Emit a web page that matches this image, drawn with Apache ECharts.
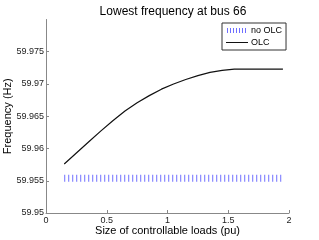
<!DOCTYPE html>
<html>
<head>
<meta charset="utf-8">
<script src="https://cdn.jsdelivr.net/npm/echarts@6/dist/echarts.min.js"></script>
<style>html,body{margin:0;padding:0;background:#fff}#c{width:319px;height:240px}</style>
</head>
<body>
<div id="c"></div>
<script>
var xs = [0.15,0.25,0.35,0.45,0.55,0.65,0.75,0.85,0.95,1.05,1.15,1.25,1.35,1.45,1.55,1.65,1.75,1.85,1.95];
var olc = [59.9576,59.9593,59.9610,59.9627,59.9643,59.9658,59.9671,59.9682,59.9692,59.9700,59.9707,59.9713,59.9718,59.9721,59.9723,59.9723,59.9723,59.9723,59.9723];
var noOlc = [59.9554,59.9554,59.9554,59.9554,59.9554,59.9554,59.9554,59.9554,59.9554,59.9554,59.9554,59.9554,59.9554,59.9554,59.9554,59.9554,59.9554,59.9554,59.9554];
var yTicks = [59.95,59.955,59.96,59.965,59.97,59.975,59.98];
var FONT = 'Liberation Sans';
function pairs(a,b){return a.map(function(v,i){return [v,b[i]];});}
var corners = 'M0 0h0.01v0.01h-0.01Z M21.99 7.99h0.01v0.01h-0.01Z ';
var barsIcon = 'path://' + corners + [1,4,7,10,13,16,19].map(function(x){return 'M'+x+' 1.5h1v5h-1Z';}).join(' ');
var lineIcon = 'path://' + corners + 'M0 3.5h22v1.1h-22Z';
var chart = echarts.init(document.getElementById('c'), null, {renderer:'canvas'});
chart.setOption({
  animation:false,
  textStyle:{fontFamily:FONT},
  title:{text:'Lowest frequency at bus 66', left:168, top:1, textAlign:'center',
    textStyle:{fontFamily:FONT,fontSize:12,fontWeight:'normal',color:'#000'}},
  grid:{left:46,right:30,top:19.5,bottom:27,containLabel:false,outerBoundsMode:'none'},
  legend:{orient:'vertical', left:222, top:23, backgroundColor:'#fff', borderColor:'#333', borderWidth:1,
    padding:[3,4,3,4], itemGap:3, itemWidth:22, itemHeight:8,
    textStyle:{fontFamily:FONT,fontSize:9,color:'#000',padding:[0,0,0,-2]},
    data:[{name:'no OLC', icon:barsIcon},{name:'OLC', icon:lineIcon}]},
  xAxis:{type:'value', min:0, max:2, interval:0.5, nameMoveOverlap:false,
    axisLine:{lineStyle:{color:'#888'}}, axisTick:{inside:true,length:3,lineStyle:{color:'#888'}},
    splitLine:{show:false},
    axisLabel:{fontFamily:FONT,fontSize:9,color:'#222',margin:3},
    name:'Size of controllable loads (pu)', nameLocation:'middle', nameGap:12,
    nameTextStyle:{fontFamily:FONT,fontSize:11,color:'#000'}},
  yAxis:{type:'value', min:yTicks[0], max:yTicks[yTicks.length-1], interval:0.005, nameMoveOverlap:false,
    axisLine:{lineStyle:{color:'#888'}}, axisTick:{inside:true,length:3,lineStyle:{color:'#888'}},
    splitLine:{show:false},
    axisLabel:{fontFamily:FONT,fontSize:9,color:'#222',margin:2,showMaxLabel:false,
      formatter:function(v){return String(+v.toFixed(3));}},
    name:'Frequency (Hz)', nameLocation:'middle', nameGap:33,
    nameTextStyle:{fontFamily:FONT,fontSize:11,color:'#000'}},
  series:[
    {name:'no OLC', type:'line', data:pairs(xs,noOlc), showSymbol:false, symbol:'none',
      lineStyle:{color:'#6f6fff', width:7, type:[1,3], cap:'butt'}, itemStyle:{color:'#6f6fff'}},
    {name:'OLC', type:'line', data:pairs(xs,olc), showSymbol:false, symbol:'none', smooth:false,
      lineStyle:{color:'#111', width:1.2}, itemStyle:{color:'#111'}}
  ]
});
</script>
</body>
</html>
